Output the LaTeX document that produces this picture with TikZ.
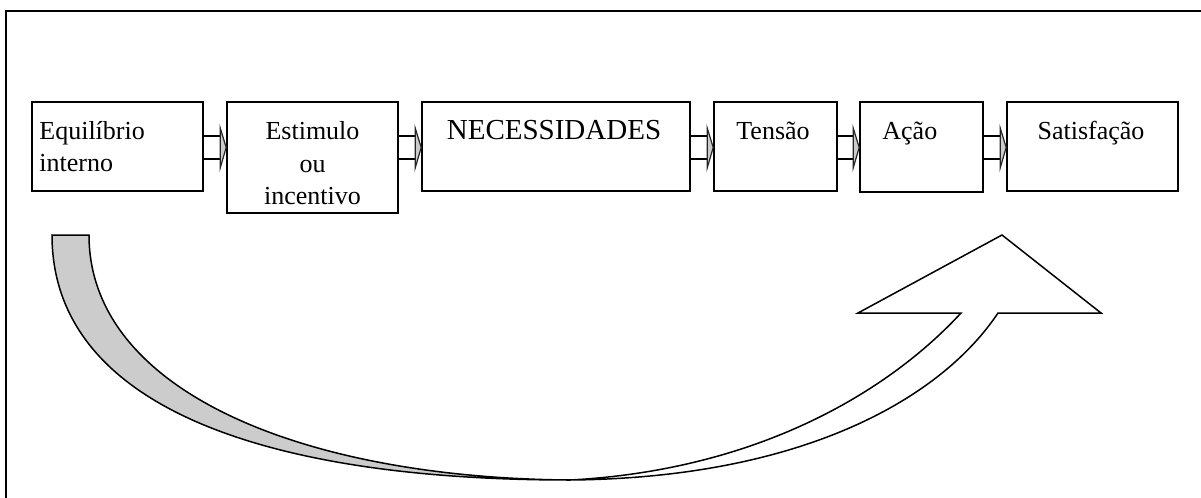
\documentclass[tikz,border=0pt]{standalone}
\usepackage{fontspec}
\setmainfont{Liberation Serif}
\usetikzlibrary{calc}
\begin{document}
\begin{tikzpicture}[x=0.5pt,y=-0.5pt,
  box/.style={draw,line width=0.8pt,rectangle,inner sep=0pt},
  txt/.style={font=\fontsize{13}{13}\selectfont,inner sep=0pt},
  bigtxt/.style={font=\fontsize{14.5}{14.5}\selectfont,inner sep=0pt},
  shaft/.style={line width=0.7pt},
  headmark/.style={draw=black!85,fill=gray!40,line width=0.6pt},
  ribbon/.style={draw,line width=0.75pt},
  frame/.style={line width=1.2pt}]
\useasboundingbox (0,0) rectangle (1201,498);
% frame (cut off at right and bottom)
\coordinate (f1) at (1201,11);
\coordinate (f2) at (6,11);
\coordinate (f3) at (6,498);
\draw[frame] (f1) -- (f2) -- (f3);
% boxes
\node[box,minimum width=85.5pt,minimum height=44.5pt] (b1) at (117.5,146.5) {};
\node[box,minimum width=85.5pt,minimum height=55.5pt] (b2) at (312.5,157.5) {};
\node[box,minimum width=134pt,minimum height=44.5pt] (b3) at (556,146.5) {};
\node[box,minimum width=61.5pt,minimum height=44.5pt] (b4) at (775.5,146.5) {};
\node[box,minimum width=61.5pt,minimum height=45pt] (b5) at (921.5,147) {};
\node[box,minimum width=85.5pt,minimum height=44.5pt] (b6) at (1092.5,146.5) {};
% texts
\node[txt,anchor=base west] (t1a) at (39,139) {Equilíbrio};
\node[txt,anchor=base west] (t1b) at (39,171) {interno};
\node[txt,anchor=base] (t2a) at (312.5,139) {Estimulo};
\node[txt,anchor=base] (t2b) at (312.5,172) {ou};
\node[txt,anchor=base] (t2c) at (312.5,204) {incentivo};
\node[bigtxt,anchor=base] (t3) at (554,139) {NECESSIDADES};
\node[txt,anchor=base] (t4) at (773,139) {Tensão};
\node[txt,anchor=base west] (t5) at (882,139) {Ação};
\node[txt,anchor=base] (t6) at (1091,139) {Satisfação};
% small block arrows between boxes
\coordinate (yt) at (0,136);
\coordinate (yb) at (0,159);
\coordinate (ym) at (0,147.5);
\coordinate (yh1) at (0,128);
\coordinate (yh2) at (0,168);
\foreach \a/\b in {b1/b2,b2/b3,b3/b4,b4/b5,b5/b6}{
  \draw[shaft] (\a.east |- yt) -- ($(\b.west |- yt)+(-3pt,0)$);
  \draw[shaft] (\a.east |- yb) -- ($(\b.west |- yb)+(-3pt,0)$);
  \draw[headmark] ($(\b.west |- yh1)+(-3pt,0)$) -- (\b.west |- ym) -- ($(\b.west |- yh2)+(-3pt,0)$) -- cycle;
}
% big curved ribbon arrow
\coordinate (L1) at (52,235);
\coordinate (L2) at (89,235);
\coordinate (C) at (570,480);
\coordinate (R1) at (961,313);
\coordinate (R2) at (998,313);
\coordinate (HL) at (858,313);
\coordinate (HT) at (1002,235);
\coordinate (HR) at (1101,313);
\draw[ribbon,fill=gray!40] (L1) -- (L2) .. controls (89,390) and (300,478) .. (C)
   .. controls (250,480) and (52,400) .. (L1) -- cycle;
\draw[ribbon,fill=white] (C) .. controls (800,478) and (940,400) .. (R2) -- (HR) -- (HT) -- (HL) -- (R1)
   .. controls (890,390) and (760,470) .. (C) -- cycle;
\end{tikzpicture}
\end{document}
